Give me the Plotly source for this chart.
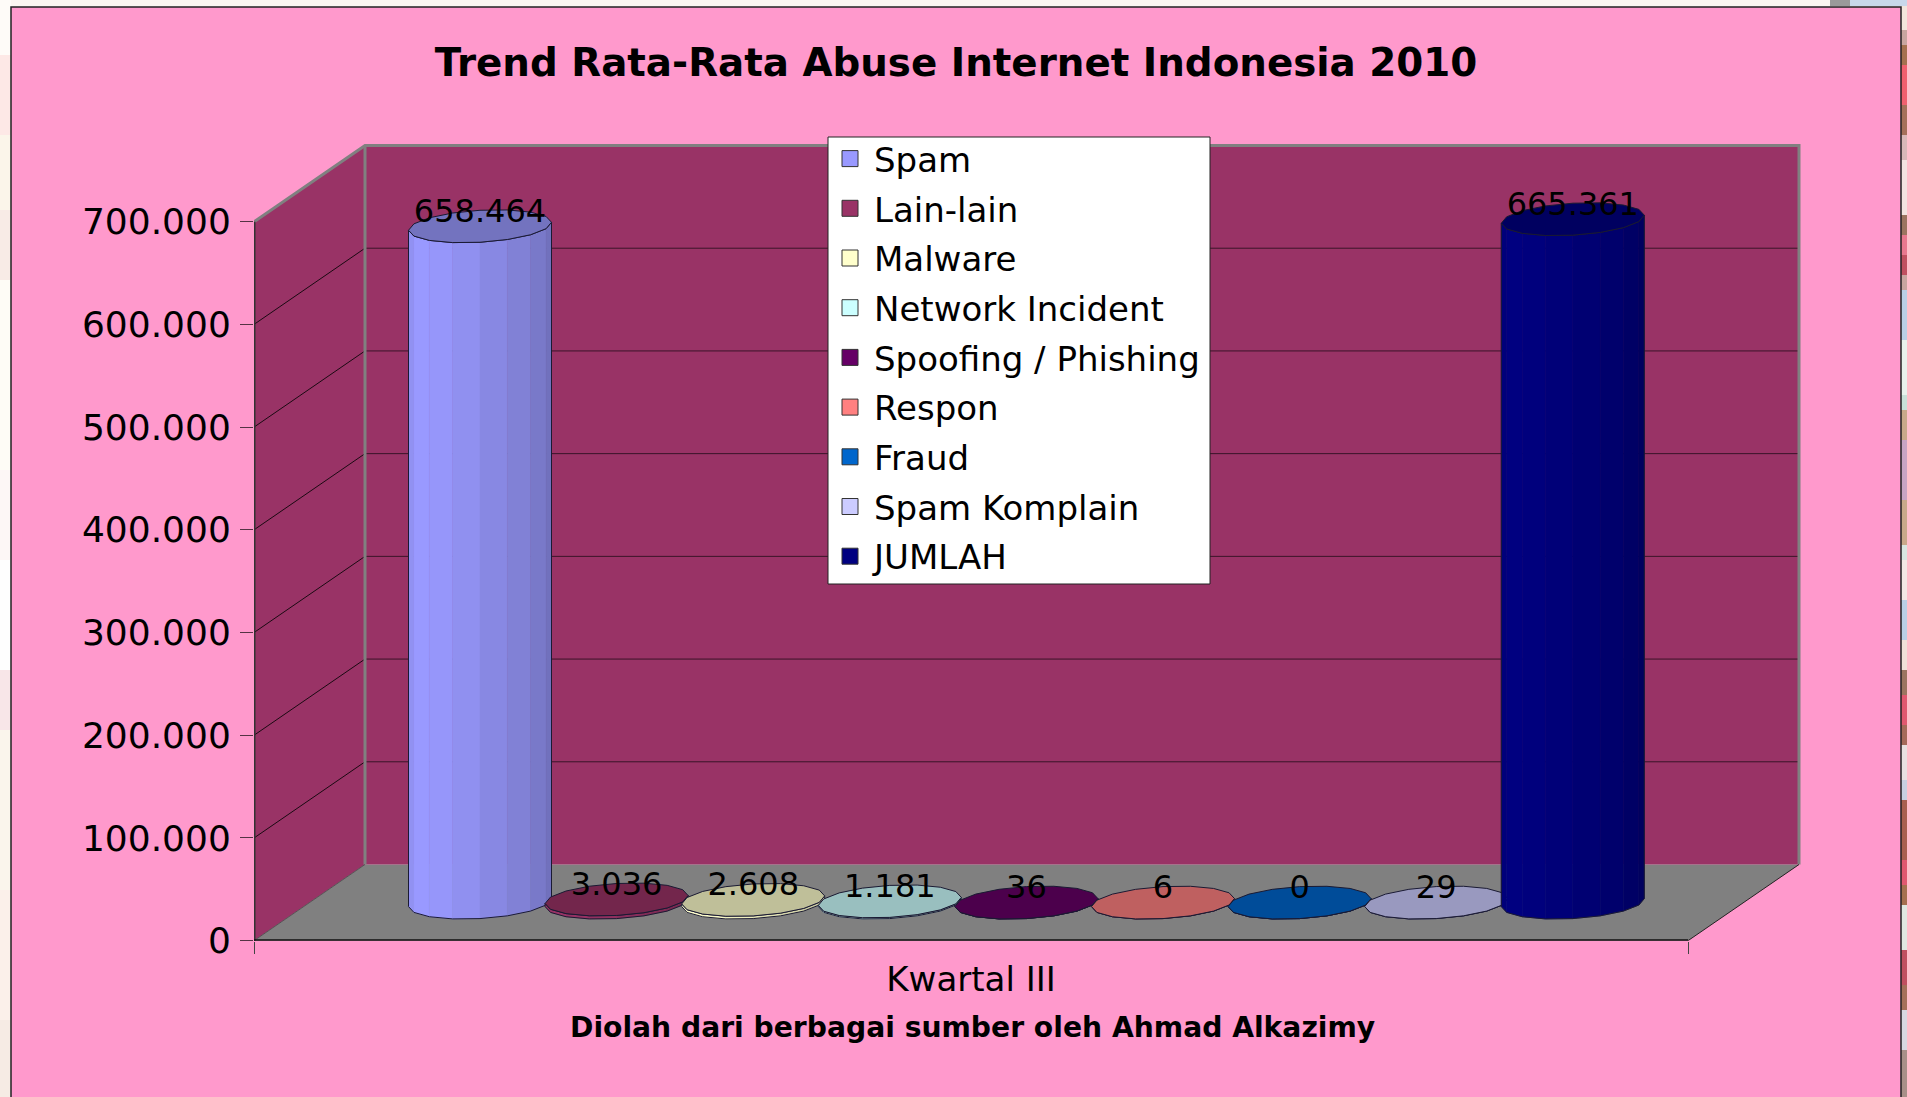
import math
import plotly.graph_objects as go

# ---- data ----
TITLE = "Trend Rata-Rata Abuse Internet Indonesia 2010"
CATEGORY = "Kwartal III"
SOURCE = "Diolah dari berbagai sumber oleh Ahmad Alkazimy"
SERIES = ["Spam", "Lain-lain", "Malware", "Network Incident", "Spoofing / Phishing",
          "Respon", "Fraud", "Spam Komplain", "JUMLAH"]
VALUES = [658464, 3036, 2608, 1181, 36, 6, 0, 29, 665361]
COLORS = ["#9999ff", "#993366", "#ffffcc", "#ccffff", "#660066",
          "#ff8080", "#0066cc", "#ccccff", "#000080"]
TICKS = [0, 100000, 200000, 300000, 400000, 500000, 600000, 700000]

# decorative slide edge showing beside the chart: (from px, to px, colour)
RIGHT_BANDS = [(0, 30, "#f3e6dc"), (30, 45, "#c9a5a0"), (45, 65, "#a5704f"), (65, 105, "#f0606f"),
               (105, 135, "#a5705a"), (135, 160, "#d9b8b8"), (160, 215, "#f3e3e0"), (215, 235, "#9c7460"),
               (235, 255, "#e8788f"), (255, 275, "#c05060"), (275, 290, "#c9a5a0"), (290, 340, "#b9cfe6"),
               (340, 395, "#e8f1ec"), (395, 410, "#c8e0d8"), (410, 440, "#c9a98a"), (440, 500, "#c8a4c4"),
               (500, 545, "#c9a98a"), (545, 560, "#d8e6e0"), (560, 600, "#f3e8e4"), (600, 640, "#b9cfe6"),
               (640, 670, "#f0e0d8"), (670, 695, "#9c7460"), (695, 725, "#e05870"), (725, 745, "#a56a5a"),
               (745, 780, "#e8e0e0"), (780, 800, "#c8cfe0"), (800, 860, "#a8604f"), (860, 885, "#e05870"),
               (885, 905, "#a5704f"), (905, 950, "#dfe8e0"), (950, 985, "#c05060"), (985, 1010, "#a5705a"),
               (1010, 1050, "#d8d8e0"), (1050, 1097, "#a89088")]
LEFT_BANDS = [(0, 55, "#fefbf8"), (55, 135, "#fde8e6"), (135, 210, "#fbf5ea"), (210, 280, "#f8ebe6"),
              (280, 470, "#fefcf6"), (470, 560, "#fdf7f6"), (560, 670, "#fefefe"), (670, 730, "#f8e6e8"),
              (730, 890, "#faf5ec"), (890, 1020, "#fbf0ea"), (1020, 1097, "#f6ebe4")]

# ---- page geometry (pixels) ----
W, H = 1907, 1097
X0, X1, XBACK = 254.0, 1688.0, 1799.0      # front-left, front-right, back-right
Y0, Y700, YFLOOR = 940.7, 221.7, 864.5     # zero, 700.000 on the front plane, back floor
PAD = 4.0
PX_X = X1 - X0                             # pixels per x-unit
PX_Y = (Y0 - Y700) / 700000                # pixels per value
DX = (XBACK - X1) / PX_X                   # depth in x units
DY = (Y0 - YFLOOR) / PX_Y                  # depth in value units
YTOP = TICKS[-1] + DY                      # top of back wall
BAR_FIRST = (480 - X0) / PX_X
BAR_STEP = 136.6 / PX_X
RX = 71.5 / PX_X
RY = 16 / PX_Y
TILT = 4 / PX_Y
BASE = DY / 2
LABEL_DROP = 3.5 / PX_Y
FONT = "DejaVu Sans, Verdana, sans-serif"

SHADES = [0.95, 1.0, 0.98, 0.94, 0.89, 0.84, 0.79, 0.74]


def shade(hex_color, f):
    r, g, b = (int(hex_color[i:i + 2], 16) for i in (1, 3, 5))
    return f"rgb({round(r * f)},{round(g * f)},{round(b * f)})"


def ring(cx, cy, a):
    return cx + RX * math.cos(a), cy + RY * math.sin(a) + TILT * math.cos(a)


fig = go.Figure()
n = len(SHADES)
for i, (name, val, col) in enumerate(zip(SERIES, VALUES, COLORS)):
    cx = BAR_FIRST + i * BAR_STEP
    top = BASE + val
    for k in range(n):
        a0 = math.pi + math.pi * k / n
        a1 = math.pi + math.pi * (k + 1) / n
        p0, p1 = ring(cx, BASE, a0), ring(cx, BASE, a1)
        q0, q1 = ring(cx, top, a0), ring(cx, top, a1)
        fc = shade(col, SHADES[k])
        fig.add_trace(go.Scatter(
            x=[p0[0], p1[0], q1[0], q0[0], p0[0]], y=[p0[1], p1[1], q1[1], q0[1], p0[1]],
            mode="lines", fill="toself", fillcolor=fc, line=dict(color=fc, width=0.5),
            hoverinfo="skip", showlegend=False))
    angs = [math.pi + math.pi * k / n for k in range(n + 1)]
    low = [ring(cx, BASE, a) for a in angs]
    hi = [ring(cx, top, a) for a in reversed(angs)]
    sil = low + hi + low[:1]
    fig.add_trace(go.Scatter(x=[p[0] for p in sil], y=[p[1] for p in sil], mode="lines",
                             line=dict(color="#1a1a33", width=1), hoverinfo="skip", showlegend=False))
    capa = [2 * math.pi * k / (2 * n) for k in range(2 * n + 1)]
    cap = [ring(cx, top, a) for a in capa]
    fig.add_trace(go.Scatter(x=[p[0] for p in cap], y=[p[1] for p in cap], mode="lines",
                             fill="toself", fillcolor=shade(col, 0.75),
                             line=dict(color="#1a1a33", width=1), hoverinfo="skip", showlegend=False))

# data labels
fig.add_trace(go.Scatter(
    x=[BAR_FIRST + i * BAR_STEP for i in range(len(VALUES))],
    y=[BASE + v - LABEL_DROP for v in VALUES],
    mode="text",
    text=[f"{v:,}".replace(",", ".") for v in VALUES],
    textposition="top center",
    textfont=dict(family=FONT, size=32, color="black"),
    hoverinfo="skip", showlegend=False, cliponaxis=False))

# legend entries
for name, col in zip(SERIES, COLORS):
    fig.add_trace(go.Scatter(x=[None], y=[None], mode="markers", name=name, legendgroup=name,
                             marker=dict(symbol="square", size=16, color=col,
                                         line=dict(color="#333333", width=1))))

shapes = []
for a, b, c in RIGHT_BANDS:
    shapes.append(dict(type="rect", xref="paper", yref="paper", x0=1901 / W, x1=1, y0=1 - b / H, y1=1 - a / H,
                       fillcolor=c, line=dict(width=0), layer="below"))
for a, b, c in LEFT_BANDS:
    shapes.append(dict(type="rect", xref="paper", yref="paper", x0=0, x1=11 / W, y0=1 - b / H, y1=1 - a / H,
                       fillcolor=c, line=dict(width=0), layer="below"))
shapes += [
    dict(type="rect", xref="paper", yref="paper", x0=1830 / W, x1=1850 / W, y0=1 - 6 / H, y1=1,
         fillcolor="#9a9a9a", line=dict(width=0), layer="below"),
    dict(type="rect", xref="paper", yref="paper", x0=1850 / W, x1=1, y0=1 - 6 / H, y1=1,
         fillcolor="#c8d8ea", line=dict(width=0), layer="below"),
    dict(type="rect", xref="paper", yref="paper", x0=11 / W, x1=1901 / W, y0=0, y1=1 - 7 / H,
         fillcolor="#ff99cc", line=dict(width=0), layer="below"),
    dict(type="path", xref="paper", yref="paper",
         path=f"M{11 / W},0 L{11 / W},{1 - 7 / H} L{1901 / W},{1 - 7 / H} L{1901 / W},0",
         line=dict(color="#222222", width=1.5), layer="below"),
    dict(type="path", xref="x", yref="y",
         path=f"M0,0 L0,{TICKS[-1]} L{DX},{YTOP} L{DX},{DY} Z",
         fillcolor="#993366", line=dict(width=0), layer="below"),
    dict(type="rect", xref="x", yref="y", x0=DX, x1=1 + DX, y0=DY, y1=YTOP,
         fillcolor="#993366", line=dict(width=0), layer="below"),
    dict(type="path", xref="x", yref="y",
         path=f"M0,0 L1,0 L{1 + DX},{DY} L{DX},{DY} Z",
         fillcolor="#808080", line=dict(width=0), layer="below"),
]
for v in TICKS[1:-1]:
    shapes.append(dict(type="line", xref="x", yref="y", x0=0, x1=DX, y0=v, y1=v + DY,
                       line=dict(color="#1a0a12", width=1), layer="below"))
    shapes.append(dict(type="line", xref="x", yref="y", x0=DX, x1=1 + DX, y0=v + DY, y1=v + DY,
                       line=dict(color="#3a1428", width=1), layer="below"))
shapes.append(dict(type="path", xref="x", yref="y",
                   path=f"M0,{TICKS[-1]} L{DX},{YTOP} L{1 + DX},{YTOP} L{1 + DX},{DY}",
                   line=dict(color="#808080", width=3), layer="below"))
shapes.append(dict(type="line", xref="x", yref="y", x0=DX, x1=DX, y0=DY, y1=YTOP,
                   line=dict(color="#808080", width=3), layer="below"))
shapes.append(dict(type="line", xref="x", yref="y", x0=0, x1=DX, y0=0, y1=DY,
                   line=dict(color="#555555", width=1), layer="below"))
shapes.append(dict(type="line", xref="x", yref="y", x0=1, x1=1 + DX, y0=0, y1=DY,
                   line=dict(color="#222222", width=1), layer="below"))
shapes.append(dict(type="line", xref="x", yref="y", x0=0, x1=0, y0=0, y1=TICKS[-1],
                   line=dict(color="#333333", width=3), layer="below"))
shapes.append(dict(type="line", xref="x", yref="y", x0=0, x1=1, y0=0, y1=0,
                   line=dict(color="#111111", width=3), layer="below"))
# legend panel
shapes.append(dict(type="rect", xref="paper", yref="paper", x0=828 / W, x1=1210 / W,
                   y0=1 - 584 / H, y1=1 - 137 / H, fillcolor="white",
                   line=dict(color="#222222", width=1), layer="above"))

fig.update_layout(
    width=W, height=H, autosize=False, margin=dict(l=0, r=0, t=0, b=0, autoexpand=False),
    paper_bgcolor="#fbf6f1", plot_bgcolor="rgba(0,0,0,0)",
    separators=",.",
    shapes=shapes,
    title=dict(text=f"<b>{TITLE}</b>", x=956 / W, xanchor="center", y=1 - 62 / H, yanchor="middle",
               font=dict(family=FONT, size=38.8, color="black")),
    annotations=[dict(text=f"<b>{SOURCE}</b>", xref="paper", yref="paper",
                      x=973 / W, y=1 - 1027 / H, xanchor="center", yanchor="middle",
                      showarrow=False, font=dict(family=FONT, size=28.2, color="black"))],
    xaxis=dict(domain=[X0 / W, (XBACK + PAD) / W], range=[0, 1 + DX + PAD / PX_X],
               showgrid=False, zeroline=False, showline=False,
               tickmode="array", tickvals=[0.5], ticktext=[CATEGORY], ticks="",
               tickfont=dict(family=FONT, size=34, color="black"),
               ticklabelstandoff=15,
               minor=dict(tickmode="array", tickvals=[0, 1], ticks="outside", ticklen=12,
                          tickwidth=1, tickcolor="#444444", showgrid=False)),
    yaxis=dict(domain=[(H - Y0) / H, (H - Y0 + PX_Y * YTOP + PAD) / H],
               range=[0, YTOP + PAD / PX_Y],
               showgrid=False, zeroline=False, showline=False,
               tickmode="array", tickvals=TICKS, tickformat=",d", ticks="outside",
               ticklen=13, tickwidth=1, tickcolor="#553344",
               ticklabelstandoff=2,
               tickfont=dict(family=FONT, size=36, color="black")),
    legend=dict(x=826 / W, y=1 - 130 / H, xanchor="left", yanchor="top",
                bgcolor="rgba(0,0,0,0)", borderwidth=0,
                itemwidth=38, traceorder="grouped", tracegroupgap=2.5,
                font=dict(family=FONT, size=34, color="black")),
)

fig.write_html("out.html", config={"displayModeBar": False},
               post_script="document.body.style.margin='0';document.documentElement.style.overflow='hidden';")
